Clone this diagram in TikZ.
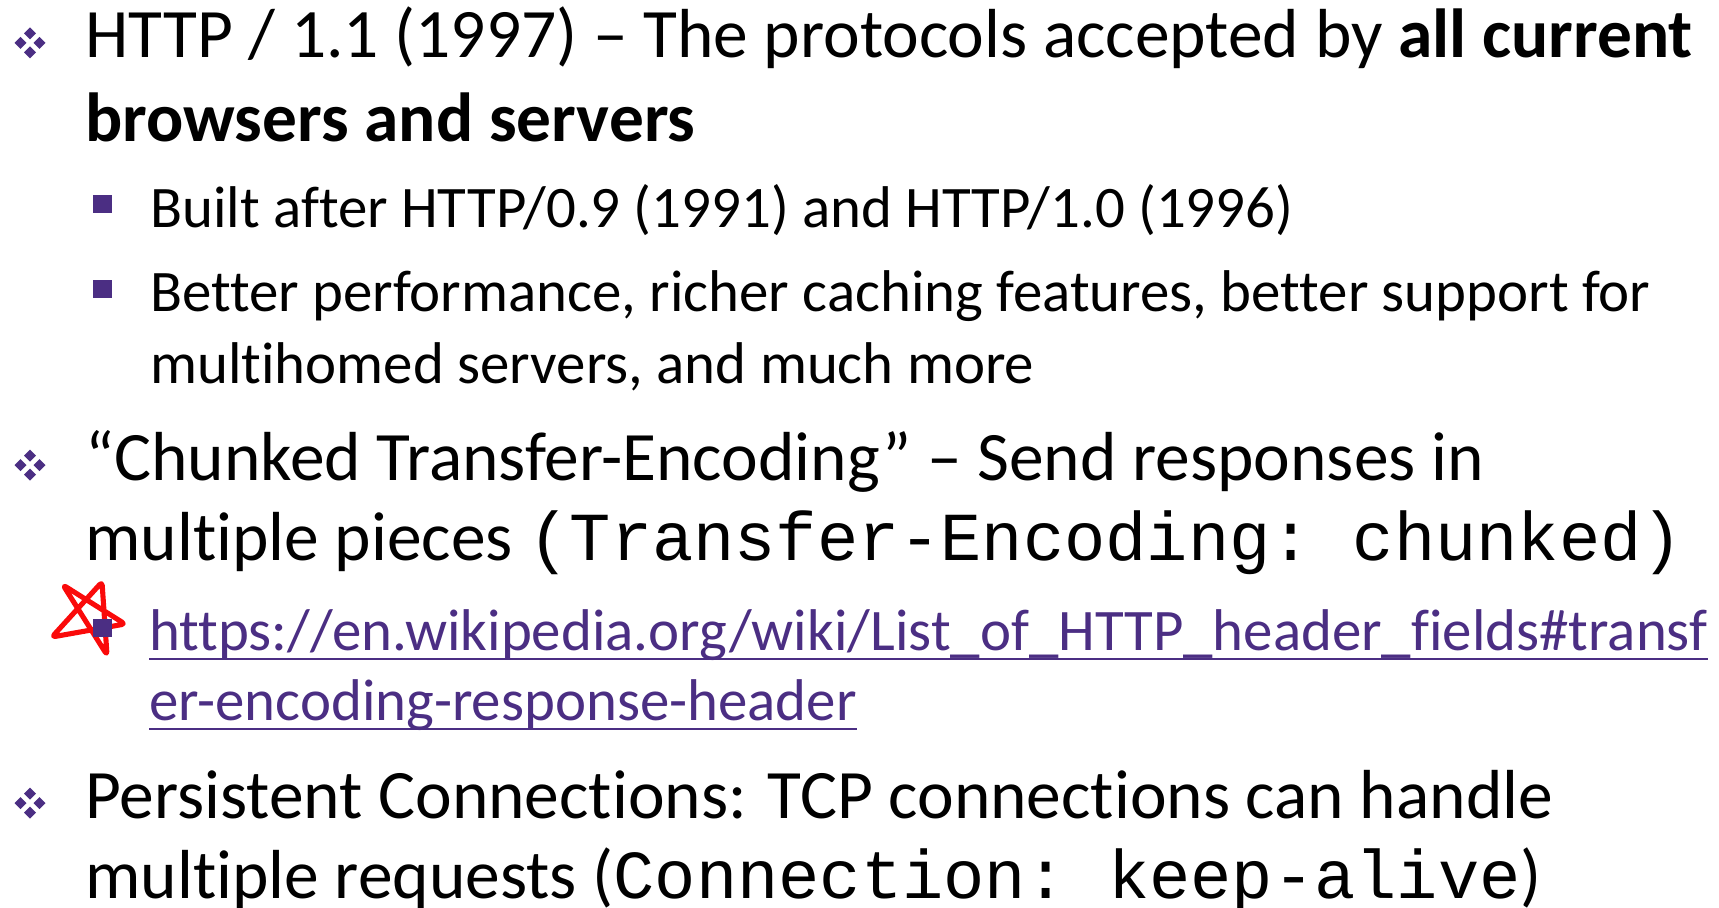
\documentclass[tikz,border=0pt]{standalone}
\usepackage{fontspec}
\setmainfont{Carlito}[Ligatures=NoCommon]
\setmonofont{Liberation Mono}
\usepackage{tikz}
\usetikzlibrary{positioning}
\definecolor{uwpurple}{RGB}{75,46,131}
\definecolor{inkred}{RGB}{250,10,10}
\newcommand\mainsize{\fontsize{39.5}{48}\selectfont}
\newcommand\subsize{\fontsize{33.5}{40}\selectfont}
\newcommand\code[1]{{\fontsize{39.1}{46}\selectfont\ttfamily #1}}

\begin{document}
\begin{tikzpicture}[
    x=0.02cm, y=-0.02cm,
    txt/.style={anchor=base west, inner sep=0pt, font=\mainsize},
    subtxt/.style={txt, font=\subsize},
    lnk/.style={subtxt, text=uwpurple},
    sqbullet/.style={fill=uwpurple},
    pics/diabullet/.style={code={
        \foreach \dx/\dy in {0/-9.5,-9.5/0,9.5/0,0/9.5}
            \fill[uwpurple] (\dx,\dy) +(0,-6) -- +(6,0) -- +(0,6) -- +(-6,0) -- cycle;
    }}
]
\useasboundingbox (0,0) rectangle (1719,908);

% first point
\pic at (30,43) {diabullet};
\node[txt] (l1a) at (85,58) {HTTP / 1.1 (1997) -- The protocols accepted by \textbf{all current}};
\node[txt] (l1b) at (85,142) {\textbf{browsers and servers}};

\fill[sqbullet] (93,195) rectangle (112,213);
\node[subtxt] (s1) at (150,228) {Built after HTTP/0.9 (1991) and HTTP/1.0 (1996)};
\fill[sqbullet] (93,280) rectangle (112,298);
\node[subtxt] (s2a) at (150,312) {Better performance, richer caching features, better support for};
\node[subtxt] (s2b) at (150,383) {multihomed servers, and much more};

% second point
\pic at (30,465) {diabullet};
\node[txt] (l2a) at (85,480) {“Chunked Transfer-Encoding” -- Send responses in};
\node[txt] (l2b) at (85,560) {multiple pieces \code{(Transfer-Encoding: chunked)}};

% hand drawn star behind the link bullet
\draw[inkred, line width=2.9pt, line cap=round, line join=round, rounded corners=2]
    (52,637) -- (125,624) -- (63,585) -- (107,655) -- (102,582) -- cycle;
\fill[sqbullet] (93,619) rectangle (112,637);
\node[lnk] (lnka) at (149,650) {https://en.wikipedia.org/wiki/List\_of\_HTTP\_header\_fields\#transf};
\node[lnk] (lnkb) at (149,720) {er-encoding-response-header};
\draw[uwpurple, line width=1.6pt] ([yshift=-0.18cm]lnka.base west) -- ([yshift=-0.18cm]lnka.base east);
\draw[uwpurple, line width=1.6pt] ([yshift=-0.18cm]lnkb.base west) -- ([yshift=-0.18cm]lnkb.base east);

% third point
\pic at (30,803) {diabullet};
\node[txt] (l3a) at (85,818) {Persistent Connections: TCP connections can handle};
\node[txt] (l3b) at (85,898) {multiple requests (\code{Connection: keep-alive})};

\end{tikzpicture}
\end{document}
